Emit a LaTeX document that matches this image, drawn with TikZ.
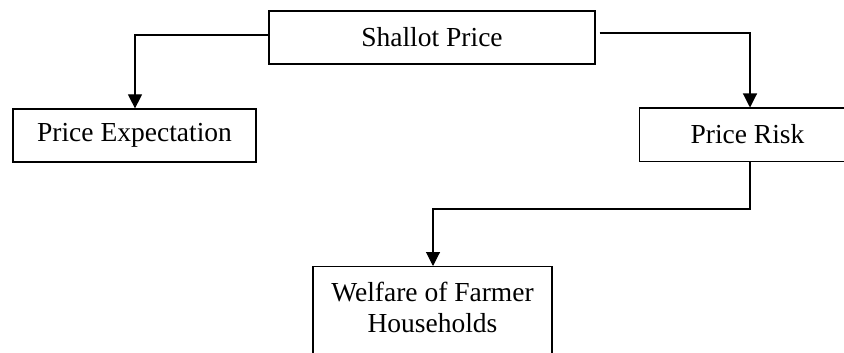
\documentclass[tikz,border=0pt]{standalone}
\usepackage{fontspec}
\setmainfont{Liberation Serif}
\usetikzlibrary{arrows.meta}
\tikzset{
  box/.style={draw=black, line width=1.2pt, fill=white, inner sep=0pt,
    font=\fontsize{27.5}{31}\selectfont, align=center},
  conn/.style={draw=black, line width=1.1pt},
  arr/.style={conn, -{Triangle[width=14pt,length=14pt]}},
  lbl/.style={inner sep=0pt, font=\fontsize{27.5}{31}\selectfont, align=center}
}
\begin{document}
\begin{tikzpicture}[x=1pt,y=-1pt]
  \useasboundingbox (0,0) rectangle (844,353);
  \clip (0,0) rectangle (844,353);
  \fill[white] (0,0) rectangle (844,353);
  % nodes
  \node[box, minimum width=326, minimum height=53] (shallot) at (432,37.5) {Shallot Price};
  \node[box, minimum width=243, minimum height=53] (expect) at (134.5,135.5) {Price Expectation};
  \node[box, minimum width=217, minimum height=53, anchor=north west] (risk) at (639,107.5) {};
  \node[lbl] (risktext) at (747.5,134) {Price Risk};
  \node[box, minimum width=239, minimum height=130, anchor=north] (welfare) at (432.5,266) {};
  \node[lbl] (welfaretext) at (432.5,307.5) {Welfare of Farmer\\Households};
  % corner coordinates
  \coordinate (c1) at (135,35);
  \coordinate (c2) at (750,33);
  \coordinate (c3) at (750,209);
  \coordinate (c4) at (433,209);
  % connectors
  \draw[arr] (shallot.west |- c1) -- (c1) -- (c1 |- expect.north);
  \draw[arr, shorten <=4pt] (shallot.east |- c2) -- (c2) -- (c2 |- risk.north);
  \draw[arr] (c3 |- risk.south) -- (c3) -- (c4) -- (c4 |- welfare.north);
\end{tikzpicture}
\end{document}
